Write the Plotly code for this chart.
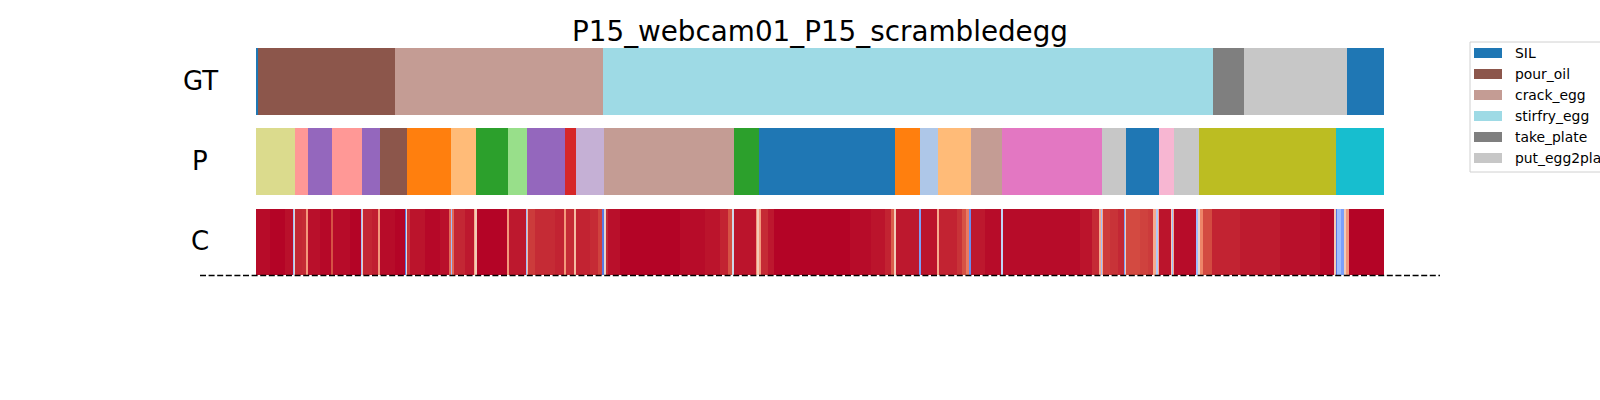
import plotly.graph_objects as go

# ---------------- data ----------------
title = "P15_webcam01_P15_scrambledegg"
n_frames = 1128
row_names = ["GT", "P", "C"]

# ground truth segments (start frame, end frame, label)
gt_starts = [0, 2, 139, 347, 957, 988, 1091]
gt_ends = [2, 139, 347, 957, 988, 1091, 1128]
gt_labels = ["SIL", "pour_oil", "crack_egg", "stirfry_egg", "take_plate", "put_egg2plate", "SIL"]

# legend classes (ground-truth actions) and their tab20 class index
legend_labels = ["SIL", "pour_oil", "crack_egg", "stirfry_egg", "take_plate", "put_egg2plate"]
legend_ids = [0, 10, 11, 19, 14, 15]

# prediction segments: boundaries and tab20 class index of each segment
p_bounds = [0, 39, 52, 76, 106, 124, 151, 195, 220, 252, 271, 309, 320, 348, 478, 503,
            639, 664, 682, 715, 746, 846, 870, 903, 918, 943, 1080, 1128]
p_ids = [17, 7, 8, 7, 8, 10, 2, 3, 4, 5, 8, 6, 9, 11, 4, 0, 2, 1, 3, 11, 12, 15, 0, 13, 15, 16, 18]

# confidence (piecewise, start frame of each run and its value)
conf_starts = [0, 14, 29, 37, 38, 39, 46, 50, 52, 64, 75, 77, 94, 105, 106, 107, 116, 122, 124,
               139, 149, 150, 151, 154, 169, 184, 193, 195, 196, 198, 209, 218, 219, 221, 251,
               253, 270, 271, 272, 279, 299, 308, 310, 318, 320, 334, 342, 346, 348, 350, 352,
               364, 424, 449, 464, 472, 476, 478, 500, 501, 503, 505, 512, 518, 594, 615, 629,
               635, 638, 640, 663, 665, 681, 683, 701, 706, 710, 713, 715, 729, 745, 747, 824,
               836, 843, 845, 846, 847, 854, 862, 868, 869, 870, 884, 892, 897, 900, 902, 903,
               915, 916, 917, 918, 940, 942, 944, 947, 956, 984, 1024, 1064, 1078, 1080, 1081,
               1085, 1088, 1090, 1093]
conf_values = [0.99, 1.0, 0.985, 0.3, 0.55, 0.955, 0.95, 0.75, 0.985, 0.995, 0.9, 0.99, 1.0, 0.3,
               0.6, 0.955, 0.965, 0.75, 0.99, 1.0, 0.1, 0.5, 0.94, 0.98, 0.995, 0.985, 0.85, 0.3,
               0.85, 0.955, 0.975, 0.7, 0.6, 1.0, 0.75, 0.975, 0.3, 0.65, 0.93, 0.95, 0.96, 0.75,
               0.95, 0.65, 0.96, 0.95, 0.92, 0.1, 0.55, 0.95, 0.985, 1.0, 0.99, 0.98, 0.96, 0.9,
               0.45, 0.98, 0.75, 0.6, 0.75, 0.95, 0.975, 1.0, 0.99, 0.98, 0.96, 0.88, 0.6, 0.975,
               0.2, 0.98, 0.7, 0.96, 0.94, 0.9, 0.82, 0.15, 0.975, 0.99, 0.4, 0.99, 0.98, 0.95,
               0.7, 0.3, 0.7, 0.93, 0.94, 0.955, 0.2, 0.6, 0.91, 0.92, 0.93, 0.7, 0.35, 0.7, 0.98,
               0.6, 0.3, 0.7, 0.99, 0.3, 0.55, 0.8, 0.91, 0.96, 0.97, 0.985, 0.995, 0.6, 0.1,
               0.3, 0.2, 0.6, 0.75, 1.0]

# ---------------- styles ----------------
tab20 = ["#1f77b4", "#aec7e8", "#ff7f0e", "#ffbb78", "#2ca02c", "#98df8a", "#d62728", "#ff9896",
         "#9467bd", "#c5b0d5", "#8c564b", "#c49c94", "#e377c2", "#f7b6d2", "#7f7f7f", "#c7c7c7",
         "#bcbd22", "#dbdb8d", "#17becf", "#9edae5"]
label_color = {lab: tab20[i] for lab, i in zip(legend_labels, legend_ids)}
coolwarm = [[0.0, "#3b4cc0"], [0.1, "#5977e3"], [0.2, "#7b9ff9"], [0.3, "#9ebeff"],
            [0.4, "#c0d4f5"], [0.5, "#dddcdc"], [0.6, "#f2cbb7"], [0.7, "#f7ac8e"],
            [0.8, "#ee8468"], [0.9, "#d65244"], [1.0, "#b40426"]]
FONT = "DejaVu Sans"
W, H = 1600, 400

# pixel layout in window coordinates (y axis is in pixel units, top = 0)
GT_Y0, GT_Y1 = 48, 115
P_Y0, P_Y1 = 128, 195
C_Y0, C_Y1 = 209, 275
X0_PX, X1_PX = 256, 1384


def px(x):
    return x / W


def py(y):
    return 1 - y / H


fig = go.Figure()

# GT row
fig.add_trace(go.Bar(
    orientation="h",
    base=gt_starts,
    x=[e - s for s, e in zip(gt_starts, gt_ends)],
    y=[(GT_Y0 + GT_Y1) / 2] * len(gt_starts),
    width=GT_Y1 - GT_Y0,
    marker=dict(color=[label_color[l] for l in gt_labels], line=dict(width=0)),
    showlegend=False,
    hovertext=gt_labels,
))

# P row
fig.add_trace(go.Bar(
    orientation="h",
    base=p_bounds[:-1],
    x=[b - a for a, b in zip(p_bounds[:-1], p_bounds[1:])],
    y=[(P_Y0 + P_Y1) / 2] * len(p_ids),
    width=P_Y1 - P_Y0,
    marker=dict(color=[tab20[i] for i in p_ids], line=dict(width=0)),
    showlegend=False,
))

# C row (confidence heatmap)
fig.add_trace(go.Heatmap(
    x=conf_starts + [n_frames],
    y=[C_Y0, C_Y1],
    z=[conf_values],
    colorscale=coolwarm,
    zmin=0, zmax=1,
    showscale=False,
))

shapes = []
annotations = []

# dashed separator line
shapes.append(dict(type="line", xref="paper", yref="paper",
                   x0=px(200), x1=px(1440), y0=py(275.5), y1=py(275.5),
                   line=dict(color="black", width=1.5, dash="6px,2.6px"), layer="above"))

# row labels
for name, (a, b) in zip(row_names, [(GT_Y0, GT_Y1), (P_Y0, P_Y1), (C_Y0, C_Y1)]):
    annotations.append(dict(text=name, xref="paper", yref="paper", x=px(200), y=py((a + b) / 2 - 1),
                            xanchor="center", yanchor="middle", showarrow=False,
                            font=dict(family=FONT, size=26, color="black")))

# title
annotations.append(dict(text=title, xref="paper", yref="paper", x=px(820), y=py(31),
                        xanchor="center", yanchor="middle", showarrow=False,
                        font=dict(family=FONT, size=27.8, color="black")))

# legend (matplotlib-style)
shapes.append(dict(type="rect", xref="paper", yref="paper",
                   x0=px(1470), x1=px(1640), y0=py(42), y1=py(172),
                   line=dict(color="#d0d0d0", width=1), fillcolor="white", layer="above"))
for k, lab in enumerate(legend_labels):
    yc = 53 + 21 * k
    shapes.append(dict(type="rect", xref="paper", yref="paper",
                       x0=px(1474), x1=px(1502), y0=py(yc - 5), y1=py(yc + 5),
                       line=dict(width=0), fillcolor=label_color[lab], layer="above"))
    annotations.append(dict(text=lab, xref="paper", yref="paper", x=px(1513), y=py(yc),
                            xanchor="left", yanchor="middle", showarrow=False,
                            font=dict(family=FONT, size=13.9, color="black")))

fig.update_layout(
    width=W, height=H,
    margin=dict(l=0, r=0, t=0, b=0),
    paper_bgcolor="white", plot_bgcolor="white",
    barmode="overlay",
    xaxis=dict(domain=[px(X0_PX), px(X1_PX)], range=[0, n_frames], visible=False, fixedrange=True),
    yaxis=dict(domain=[0, 1], range=[H, 0], visible=False, fixedrange=True),
    shapes=shapes,
    annotations=annotations,
    showlegend=False,
)

fig.write_html("out.html", config={"displayModeBar": False},
               post_script="document.body.style.margin='0';document.body.style.overflow='hidden';")
